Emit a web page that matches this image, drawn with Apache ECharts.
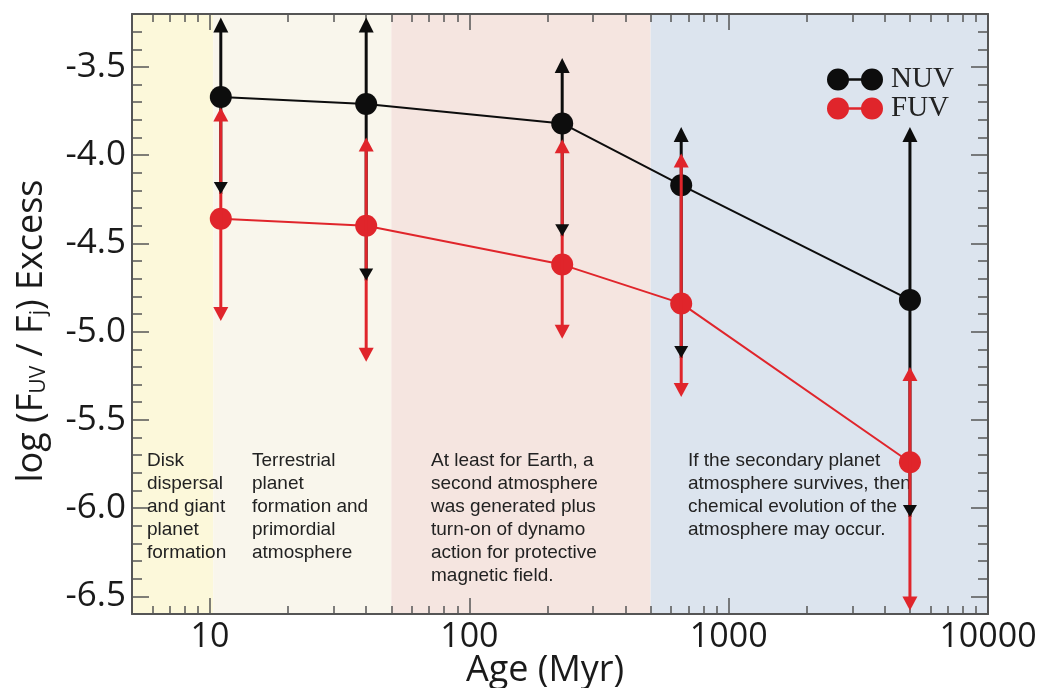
<!DOCTYPE html>
<html><head><meta charset="utf-8">
<script src="https://cdn.jsdelivr.net/npm/echarts@6/dist/echarts.min.js"></script>
<style>html,body{margin:0;padding:0;background:#fff}#c{width:1037px;height:688px}</style>
</head><body><div id="c"></div>
<script>
// ---- data ----
const ages = [11, 40, 228, 656, 5000];
const nuv = [-3.67, -3.71, -3.82, -4.17, -4.82];
const nuvLow = [-4.22, -4.71, -4.46, -5.15, -6.05];
const nuvHigh = [-3.22, -3.22, -3.45, -3.84, -3.84];
const fuv = [-4.36, -4.40, -4.62, -4.84, -5.74];
const fuvLow = [-4.94, -5.17, -5.04, -5.37, -6.58];
const fuvHigh = [-3.73, -3.90, -3.91, -3.99, -5.20];
const bandStarts = [5, 10.3, 50, 500];
const bandEnds = [10.3, 50, 500, 10000];
const xTicks = [10, 100, 1000, 10000];
const xMinorTicks = [6, 7, 8, 9, 20, 30, 40, 50, 60, 70, 80, 90, 200, 300, 400, 500, 600, 700, 800, 900, 2000, 3000, 4000, 5000, 6000, 7000, 8000, 9000];
const yTicks = [-6.5, -6.0, -5.5, -5.0, -4.5, -4.0, -3.5];
const yMinorTicks = [-6.6, -6.5, -6.4, -6.3, -6.2, -6.1, -6.0, -5.9, -5.8, -5.7, -5.6, -5.5, -5.4, -5.3, -5.2, -5.1, -5.0, -4.9, -4.8, -4.7, -4.6, -4.5, -4.4, -4.3, -4.2, -4.1, -4.0, -3.9, -3.8, -3.7, -3.6, -3.5, -3.4, -3.3, -3.2];
const annotations = [
  "Disk\ndispersal\nand giant\nplanet\nformation",
  "Terrestrial\nplanet\nformation and\nprimordial\natmosphere",
  "At least for Earth, a\nsecond atmosphere\nwas generated plus\nturn-on of dynamo\naction for protective\nmagnetic field.",
  "If the secondary planet\natmosphere survives, then\nchemical evolution of the\natmosphere may occur."
];

// ---- styles ----
const X_MIN = 5, X_MAX = 10000, Y_MIN = -6.6, Y_MAX = -3.2;
const bandColors = ['#fcf8da', '#f9f6ec', '#f5e5e0', '#dce4ee'];
const annotLeft = [147, 252, 431, 688];
const BLACK = '#0d0d0d', RED = '#e0252b', AXIS = '#555';
const tickFont = 'Open Sans';

const chart = echarts.init(document.getElementById('c'));

function bandRender(params, api) {
  const p0 = api.coord([api.value(0), api.value(3)]);
  const p1 = api.coord([api.value(1), api.value(2)]);
  return {type: 'rect', shape: {x: p0[0], y: p0[1], width: p1[0] - p0[0], height: p1[1] - p0[1]},
    style: {fill: bandColors[params.dataIndex]}};
}

function errRender(color, opts) {
  return function (params, api) {
    const x = api.value(0), lo = api.value(1), hi = api.value(2);
    const pL = api.coord([x, lo]), pH = api.coord([x, hi]);
    const ch = [];
    if (opts.line) {
      const y1 = opts.down ? pL[1] - opts.down.h / 2 : pL[1];
      const y2 = opts.up ? pH[1] + opts.up.h / 2 : pH[1];
      ch.push({type: 'line', shape: {x1: pL[0], y1: y1, x2: pH[0], y2: y2}, style: {stroke: color, lineWidth: 3}});
    }
    if (opts.up) {
      const w = opts.up.w, h = opts.up.h;
      ch.push({type: 'polygon', shape: {points: [[pH[0], pH[1]], [pH[0] - w / 2, pH[1] + h], [pH[0] + w / 2, pH[1] + h]]}, style: {fill: color}});
    }
    if (opts.down) {
      const w = opts.down.w, h = opts.down.h;
      ch.push({type: 'polygon', shape: {points: [[pL[0], pL[1]], [pL[0] - w / 2, pL[1] - h], [pL[0] + w / 2, pL[1] - h]]}, style: {fill: color}});
    }
    return {type: 'group', children: ch};
  };
}

const baseX = {type: 'log', logBase: 10, min: X_MIN, max: X_MAX, splitLine: {show: false}, axisLabel: {show: false}};
const baseY = {type: 'value', min: Y_MIN, max: Y_MAX, splitLine: {show: false}, axisLabel: {show: false}};
const majorTickX = {show: true, inside: true, length: 16, customValues: xTicks, lineStyle: {color: AXIS, width: 1.5}};
const minorTickX = {show: true, inside: true, length: 8, customValues: xMinorTicks, lineStyle: {color: AXIS, width: 1.5}};
const majorTickY = {show: true, inside: true, length: 17, customValues: yTicks, lineStyle: {color: AXIS, width: 1.5}};
const minorTickY = {show: true, inside: true, length: 10, customValues: yMinorTicks, lineStyle: {color: AXIS, width: 1.5}};
const axisLineOn = {show: true, onZero: false, lineStyle: {color: AXIS, width: 2}};
const axisLineOff = {show: false, onZero: false};

const legendIcon = 'path://M0,11a11,11 0 1,1 22,0a11,11 0 1,1 -22,0z M34,11a11,11 0 1,1 22,0a11,11 0 1,1 -22,0z M21,9.8h14v2.4h-14z';

chart.setOption({
  animation: false,
  backgroundColor: '#fff',
  grid: {left: 132, right: 49, top: 14, bottom: 74, containLabel: false, outerBoundsMode: 'none'},
  legend: {
    data: [{name: 'NUV', icon: legendIcon}, {name: 'FUV', icon: legendIcon}],
    left: 827, top: 65, orient: 'vertical', padding: 0,
    itemWidth: 56, itemHeight: 22, itemGap: 0,
    textStyle: {fontFamily: 'Liberation Serif', fontSize: 29, color: '#222', padding: [0, 0, 0, 3]},
    selectedMode: false
  },
  xAxis: [
    Object.assign({}, baseX, {position: 'bottom', axisLine: axisLineOn, axisTick: majorTickX,
      axisLabel: {show: true, customValues: xTicks, fontFamily: tickFont, fontSize: 34, color: '#1a1a1a', margin: 6,
        formatter: v => String(Math.round(v))},
      name: 'Age (Myr)', nameLocation: 'middle', nameGap: 39, nameMoveOverlap: false,
      nameTextStyle: {fontFamily: tickFont, fontSize: 36, color: '#1a1a1a', padding: [0, 30, 0, 0]}}),
    Object.assign({}, baseX, {position: 'bottom', axisLine: axisLineOff, axisTick: minorTickX}),
    Object.assign({}, baseX, {position: 'top', axisLine: axisLineOn, axisTick: majorTickX}),
    Object.assign({}, baseX, {position: 'top', axisLine: axisLineOff, axisTick: minorTickX})
  ],
  yAxis: [
    Object.assign({}, baseY, {position: 'left', axisLine: axisLineOn, axisTick: majorTickY,
      axisLabel: {show: true, customValues: yTicks, fontFamily: tickFont, fontSize: 35, color: '#1a1a1a', margin: 6,
        formatter: v => v.toFixed(1)},
      name: '{a|log (F}{s|UV}{a| / F}{s|j}{a|) Excess}', nameLocation: 'middle', nameGap: 82, nameMoveOverlap: false,
      nameTextStyle: {padding: [0, 34, 0, 0], rich: {
        a: {fontFamily: tickFont, fontSize: 36, color: '#1a1a1a'},
        s: {fontFamily: tickFont, fontSize: 21, color: '#1a1a1a', padding: [16, 0, 0, 0]}
      }}}),
    Object.assign({}, baseY, {position: 'left', axisLine: axisLineOff, axisTick: minorTickY}),
    Object.assign({}, baseY, {position: 'right', axisLine: axisLineOn, axisTick: majorTickY}),
    Object.assign({}, baseY, {position: 'right', axisLine: axisLineOff, axisTick: minorTickY})
  ],
  graphic: {elements: annotations.map((t, i) => ({
    type: 'text', left: annotLeft[i], top: 449, z: 1, silent: true,
    style: {text: t, fontFamily: 'Liberation Sans', fontSize: 19, lineHeight: 23, fill: '#222'}
  }))},
  series: [
    {type: 'custom', name: 'bands', z: 0, silent: true, clip: true, xAxisIndex: 0, yAxisIndex: 0,
      renderItem: bandRender, encode: {x: [0, 1], y: [2, 3]},
      data: bandStarts.map((s, i) => [s, bandEnds[i], Y_MIN, Y_MAX])},
    {type: 'custom', name: 'NUV err', z: 2, silent: true, xAxisIndex: 0, yAxisIndex: 0,
      renderItem: errRender(BLACK, {line: true, up: {w: 15, h: 15}}), encode: {x: 0, y: [1, 2]},
      data: ages.map((a, i) => [a, nuvLow[i], nuvHigh[i]])},
    {type: 'line', name: 'NUV', z: 3, xAxisIndex: 0, yAxisIndex: 0,
      data: ages.map((a, i) => [a, nuv[i]]),
      symbol: 'circle', symbolSize: 22, itemStyle: {color: BLACK},
      lineStyle: {color: BLACK, width: 2}, emphasis: {disabled: true}},
    {type: 'line', name: 'FUV', z: 4, xAxisIndex: 0, yAxisIndex: 0,
      data: ages.map((a, i) => [a, fuv[i]]),
      symbol: 'circle', symbolSize: 22, itemStyle: {color: RED},
      lineStyle: {color: RED, width: 2}, emphasis: {disabled: true}},
    {type: 'custom', name: 'FUV err', z: 5, silent: true, xAxisIndex: 0, yAxisIndex: 0,
      renderItem: errRender(RED, {line: true, up: {w: 15, h: 14}, down: {w: 15, h: 14}}), encode: {x: 0, y: [1, 2]},
      data: ages.map((a, i) => [a, fuvLow[i], fuvHigh[i]])},
    {type: 'custom', name: 'NUV low', z: 6, silent: true, xAxisIndex: 0, yAxisIndex: 0,
      renderItem: errRender(BLACK, {line: false, down: {w: 14, h: 12}}), encode: {x: 0, y: [1, 2]},
      data: ages.map((a, i) => [a, nuvLow[i], nuvHigh[i]])}
  ]
});
</script></body></html>
